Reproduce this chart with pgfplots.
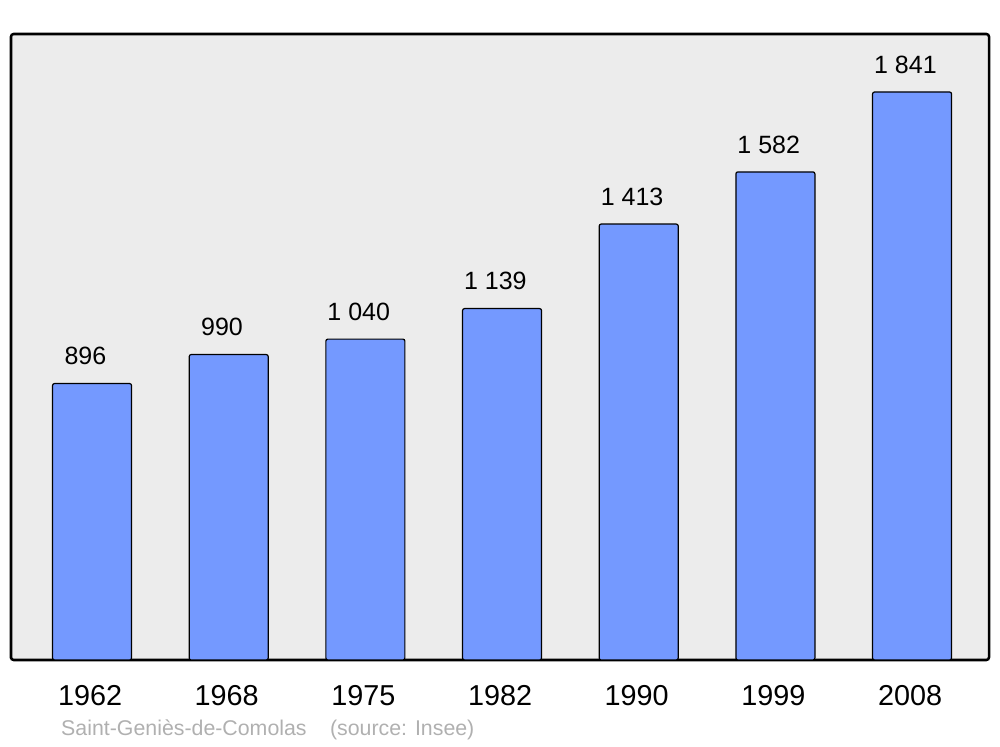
\documentclass[border=0pt]{standalone}
\usepackage{pgfplots}
\pgfplotsset{compat=1.18}
\usepackage{fontspec}
\setmainfont{Liberation Sans}
\usetikzlibrary{calc}
\definecolor{barblue}{RGB}{116,153,255}
\definecolor{bggray}{RGB}{236,236,236}
\definecolor{srcgray}{RGB}{176,176,176}
\begin{document}
\begin{tikzpicture}
\begin{axis}[
  name=ax,
  scale only axis,
  width=733.5pt, height=469.5pt,
  xmin=-0.593, xmax=6.563,
  ymin=0, ymax=2029,
  axis background/.style={fill=bggray},
  axis line style={line width=1.9pt, rounded corners=2pt},
  xtick={0,1,2,3,4,5,6},
  xticklabels={1962,1968,1975,1982,1990,1999,2008},
  ytick=\empty,
  major tick length=0pt,
  xticklabel style={font=\fontsize{21.6}{24}\selectfont, yshift=-15.75pt, xshift=-1.5pt},
  clip=false,
  ybar,
  bar width=59.25pt,
  point meta=explicit symbolic,
  nodes near coords,
  nodes near coords style={font=\fontsize{18.75}{20}\selectfont, anchor=south, yshift=10pt, xshift=-5pt},
]
\addplot[draw=black, line width=0.9pt, fill=barblue, rounded corners=1.5pt] coordinates {
  (0,896) [896]
  (1,990) [990]
  (2,1040) [1 040]
  (3,1139) [1 139]
  (4,1413) [1 413]
  (5,1582) [1 582]
  (6,1841) [1 841]
};
\node[anchor=west, text=srcgray, font=\fontsize{16}{18}\selectfont, inner sep=0pt] at (rel axis cs:0.0511,-0.112) {Saint-Geniès-de-Comolas\hspace{1.1em}(source: Insee)};
\end{axis}
\pgfresetboundingbox
\useasboundingbox ($(ax.south west)+(-8.25pt,-65.25pt)$) rectangle ($(ax.north east)+(8.25pt,25.5pt)$);
\end{tikzpicture}
\end{document}
